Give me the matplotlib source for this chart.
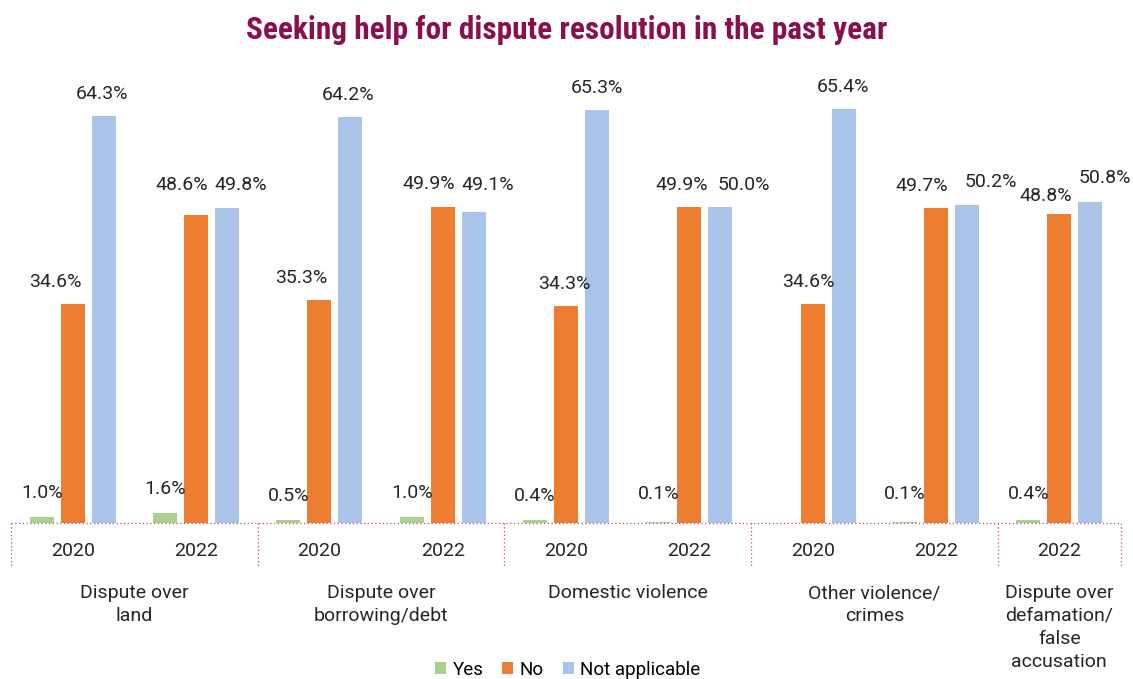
import numpy as np
import matplotlib
matplotlib.use("Agg")
import matplotlib.pyplot as plt
from matplotlib.patches import Patch
from matplotlib.transforms import blended_transform_factory

plt.rcParams["font.family"] = ["Roboto", "DejaVu Sans"]

# ---- data -------------------------------------------------------------
categories = [
    "Dispute over\nland",
    "Dispute over\nborrowing/debt",
    "Domestic violence",
    "Other violence/\ncrimes",
    "Dispute over\ndefamation/\nfalse\naccusation",
]
# years surveyed for each category
category_years = [["2020", "2022"], ["2020", "2022"], ["2020", "2022"],
                  ["2020", "2022"], ["2022"]]

series_names = ["Yes", "No", "Not applicable"]
yes_vals = [1.0, 1.6, 0.5, 1.0, 0.4, 0.1, np.nan, 0.1, 0.4]
no_vals = [34.6, 48.6, 35.3, 49.9, 34.3, 49.9, 34.6, 49.7, 48.8]
na_vals = [64.3, 49.8, 64.2, 49.1, 65.3, 50.0, 65.4, 50.2, 50.8]

colors = ["#A9D18E", "#ED7D31", "#A9C4E8"]
title_color = "#8A0F4E"
sep_color = "#C0507A"
text_color = "#262626"

# label nudges (pixels) so neighbouring labels don't collide
label_offsets = [
    [(0, 24), (-17, 22), (-2, 22)],
    [(0, 24), (-14, 30), (14, 23)],
    [(0, 24), (-18, 22), (-2, 22)],
    [(0, 24), (-14, 23), (14, 27)],
    [(0, 24), (-2, 22), (0, 22)],
    [(0, 28), (-8, 22), (24, 22)],
    [(0, 24), (-4, 22), (-1, 22)],
    [(0, 28), (-14, 22), (24, 23)],
    [(0, 26), (-14, 18), (15, 24)],
]

# ---- figure -----------------------------------------------------------
fig = plt.figure(figsize=(11.33, 6.79), dpi=100)
ax = fig.add_axes([11 / 1133, 156 / 679, 1110 / 1133, 443 / 679])

n_groups = len(yes_vals)
x = np.arange(n_groups)
width = 0.195
step = 0.251
fs = 14

all_series = [yes_vals, no_vals, na_vals]
for s, (vals, col) in enumerate(zip(all_series, colors)):
    xs = x + (s - 1) * step
    ax.bar(xs, vals, width=width, color=col, label=series_names[s], zorder=2)
    for g, v in enumerate(vals):
        if np.isnan(v):
            continue
        dx, dy = label_offsets[g][s]
        ax.annotate(f"{v:.1f}%", (xs[g], v), xytext=(dx, dy),
                    textcoords="offset pixels", ha="center", va="center",
                    fontsize=fs, color=text_color)

ax.set_xlim(-0.5, n_groups - 0.5)
ax.set_ylim(0, 70)
ax.axis("off")

# ---- multi-level category axis ---------------------------------------
trans = blended_transform_factory(ax.transData, ax.transAxes)
ax.plot([-0.5, n_groups - 0.5], [0, 0], transform=trans, color=sep_color,
        lw=0.9, ls=(0, (1, 2)), clip_on=False, zorder=3)

sep_depth = -43 / 443
pos = 0
boundaries = [-0.5]
for cat, yrs in zip(categories, category_years):
    for k, yr in enumerate(yrs):
        ax.text(pos + k, -28 / 443, yr, transform=trans, ha="center",
                va="center", fontsize=fs, color=text_color)
    center = pos + (len(yrs) - 1) / 2
    ax.text(center, -61 / 443, cat, transform=trans, ha="center", va="top",
            fontsize=fs, color=text_color, linespacing=1.35)
    pos += len(yrs)
    boundaries.append(pos - 0.5)

for b in boundaries:
    ax.plot([b, b], [0, sep_depth], transform=trans, color=sep_color,
            lw=0.9, ls=(0, (1, 2)), clip_on=False)

# ---- title & legend ---------------------------------------------------
fig.text(0.5, 1 - 30 / 679, "Seeking help for dispute resolution in the past year",
         ha="center", va="center", fontsize=22.5, fontweight="bold",
         fontstretch="condensed", color=title_color,
         family=["Roboto Condensed", "Open Sans Condensed", "DejaVu Sans"])

handles = [Patch(facecolor=c, edgecolor="none") for c in colors]
fig.legend(handles, series_names, loc="center", ncol=3, frameon=False,
           bbox_to_anchor=(0.501, 9 / 679), fontsize=fs - 0.5,
           handlelength=0.6, handleheight=0.6, handletextpad=0.35,
           columnspacing=1.0)

fig.savefig("out.png", dpi=100)
